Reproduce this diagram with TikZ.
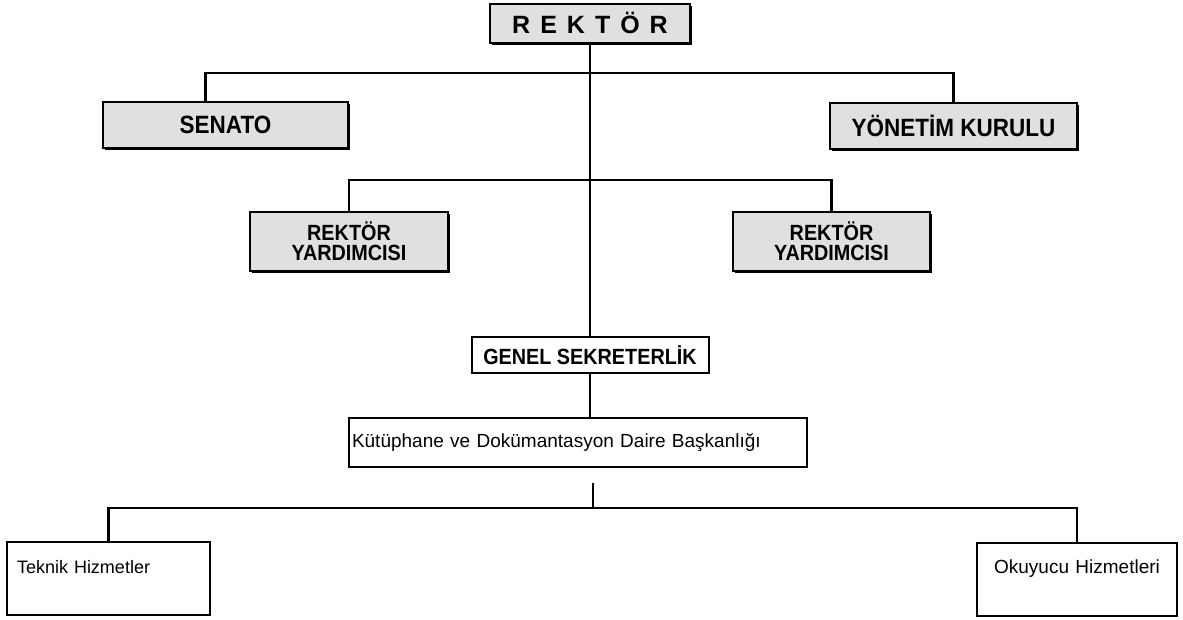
\documentclass[tikz,border=0pt]{standalone}
\usepackage{fontspec}
\setmainfont{Liberation Sans}
\newfontfamily\narrowfont[FakeStretch=0.9]{Liberation Sans}
\usetikzlibrary{shadows}
\newcommand{\wide}[1]{{\spaceskip=10pt\relax #1}}

\begin{document}
\begin{tikzpicture}[x=1pt,y=-1pt]
\useasboundingbox (0,0) rectangle (1183,619);

\tikzset{unit/.style = {shape=rectangle,draw,line width=2pt,inner sep=0pt}}
\tikzset{board/.style = {unit,fill=black!12,drop shadow={shadow xshift=2pt,shadow yshift=-2pt,fill=black,opacity=1}}}
\tikzset{capsbig/.style = {font=\narrowfont\bfseries\fontsize{25}{25}\selectfont}}
\tikzset{capssmall/.style = {font=\narrowfont\bfseries\fontsize{22}{20}\selectfont}}
\tikzset{link/.style = {line width=2.5pt}}
% boxes
\node[board,minimum width=200pt,minimum height=39pt,font=\bfseries\fontsize{25}{25}\selectfont] (rektor) at (590,23) {\wide{R E K T Ö R}};
\node[board,capsbig,minimum width=245pt,minimum height=46pt] (senato) at (225.5,125) {SENATO};
\node[board,capsbig,minimum width=247pt,minimum height=46pt] (yonetim) at (953.5,126) {YÖNETİM KURULU};
\node[board,capssmall,align=center,minimum width=198pt,minimum height=59pt] (ry1) at (349,241.5) {REKTÖR\\YARDIMCISI};
\node[board,capssmall,align=center,minimum width=197pt,minimum height=59pt] (ry2) at (831.5,241.5) {REKTÖR\\YARDIMCISI};
\node[unit,capssmall,minimum width=237pt,minimum height=36pt] (genel) at (590,355) {GENEL SEKRETERLİK};
\node[unit,text width=452pt,inner xsep=3pt,align=left,minimum height=49pt,font=\fontsize{19}{19}\selectfont] (kutup) at (578,442.5) {Kütüphane ve Dokümantasyon Daire Başkanlığı};
\node[unit,text width=183pt,inner xsep=10pt,align=left,text height=31pt,text depth=42pt,font=\fontsize{18}{18}\selectfont] (teknik) at (108.5,578.5) {Teknik Hizmetler};
\node[unit,text width=180pt,inner xsep=10pt,align=center,text height=31pt,text depth=42pt,font=\fontsize{19}{19}\selectfont] (okuyucu) at (1077,579) {Okuyucu Hizmetleri};

\coordinate (j1) at (590,73);
\coordinate (j2) at (590,180);
\coordinate (tick) at (593,483);
\coordinate (hub) at (593,508);

%edges
\draw[link] (rektor) -- (genel);
\draw[link] (genel.south) -- (genel.south |- kutup.north);
\draw[link] ([xshift=-20pt]senato.north) |- (j1) -| (yonetim.north);
\draw[link] (ry1.north) |- (j2) -| (ry2.north);
\draw[link] (tick) -- (hub);
\draw[link] (teknik.north) |- (hub) -| (okuyucu.north);

\end{tikzpicture}
\end{document}
